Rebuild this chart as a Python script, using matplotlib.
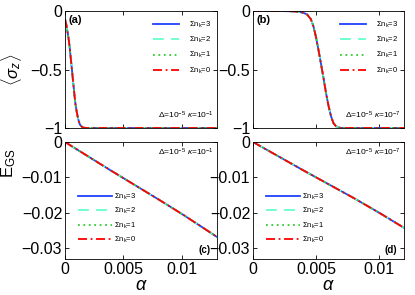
import numpy as np
import matplotlib
matplotlib.use("Agg")
import matplotlib.pyplot as plt

plt.rcParams['font.family'] = ['Liberation Sans', 'DejaVu Sans']
plt.rcParams['mathtext.fontset'] = 'custom'
plt.rcParams['mathtext.rm'] = 'Liberation Sans'
plt.rcParams['mathtext.it'] = 'Liberation Sans:italic'
plt.rcParams['axes.unicode_minus'] = True

# -----------------------------
# data
# -----------------------------
alpha_a = [0, 0.0001, 0.0002, 0.0003, 0.0004, 0.0005, 0.0006, 0.0007, 0.0008,
           0.0009, 0.001, 0.0011, 0.0012, 0.0013, 0.0015, 0.0018, 0.004, 0.008, 0.013]
sz_a = [-0.07, -0.11, -0.17, -0.23, -0.31, -0.41, -0.51, -0.61, -0.71,
        -0.80, -0.86, -0.91, -0.95, -0.975, -0.995, -1.0, -1.0, -1.0, -1.0]

alpha_b = [0, 0.002, 0.003, 0.0035, 0.004, 0.0043, 0.0046, 0.0048, 0.005, 0.0052,
           0.0054, 0.0056, 0.0058, 0.006, 0.0062, 0.0064, 0.0066, 0.0068, 0.007, 0.012]
sz_b = [0, 0, -0.002, -0.005, -0.015, -0.03, -0.07, -0.13, -0.22, -0.33,
        -0.45, -0.57, -0.70, -0.81, -0.90, -0.96, -0.985, -0.995, -1.0, -1.0]

alpha_c = [0, 0.002, 0.004, 0.006, 0.008, 0.01, 0.012, 0.013]
egs_c = [0, -0.0041, -0.0082, -0.0122, -0.0162, -0.0203, -0.0246, -0.0268]

alpha_d = [0, 0.002, 0.004, 0.006, 0.008, 0.01, 0.012]
egs_d = [0, -0.0040, -0.0080, -0.0119, -0.0158, -0.0199, -0.0242]

series = ['3', '2', '1', '0']
colors = ['#2040ff', '#66ffcc', '#33cc33', '#ff0000']
styles = ['-', (0, (6, 4)), (0, (1, 2)), (0, (5, 2, 1, 2))]

annot_top = [r'$\Delta$=10$^{-5}$ $\kappa$=10$^{-1}$', r'$\Delta$=10$^{-5}$ $\kappa$=10$^{-7}$']

fig = plt.figure(figsize=(4.15, 2.95), dpi=100)
W, H = 415, 295


def make_ax(l, r, t, b):
    return fig.add_axes([l / W, 1 - b / H, (r - l) / W, (b - t) / H])


ax_a = make_ax(65, 217, 11, 128)
ax_b = make_ax(253, 404, 11, 128)
ax_c = make_ax(65, 217, 142, 259)
ax_d = make_ax(253, 404, 142, 259)

panels = [
    (ax_a, alpha_a, sz_a, 0.013, '(a)', annot_top[0]),
    (ax_b, alpha_b, sz_b, 0.012, '(b)', annot_top[1]),
    (ax_c, alpha_c, egs_c, 0.013, '(c)', annot_top[0]),
    (ax_d, alpha_d, egs_d, 0.012, '(d)', annot_top[1]),
]

for i, (ax, x, y, xmax, lab, ann) in enumerate(panels):
    for s, c, ls in zip(series, colors, styles):
        ax.plot(x, y, color=c, linestyle=ls, lw=1.3,
                label=r'$\Sigma$n$_\mathrm{k}$=' + s)
    ax.set_xlim(0, xmax)
    ax.set_xticks([0, 0.005, 0.01])
    ax.tick_params(direction='in', top=True, right=True, length=3,
                   labelsize=11.5, width=0.6, pad=2)
    for sp in ax.spines.values():
        sp.set_linewidth(0.6)
    if i < 2:
        ax.set_ylim(-1, 0)
        ax.set_yticks([0, -0.5, -1])
        ax.set_yticklabels(['0', '\u22120.5', '\u22121'])
        ax.set_xticklabels([])
        ax.text(0.02, 0.97, lab, transform=ax.transAxes, ha='left', va='top',
                fontsize=8, fontweight='bold')
        ax.text(0.98, 0.06, ann, transform=ax.transAxes, ha='right', va='bottom',
                fontsize=6)
        ax.legend(loc='upper right', bbox_to_anchor=(1.0, 0.97), frameon=False,
                  fontsize=5.5, handlelength=3.3, handletextpad=1.4,
                  labelspacing=0.65, borderaxespad=0.3)
    else:
        ax.set_ylim(-0.033, 0)
        ax.set_yticks([0, -0.01, -0.02, -0.03])
        ax.set_yticklabels(['0', '\u22120.01', '\u22120.02', '\u22120.03'])
        ax.set_xticklabels(['0', '0.005', '0.01'])
        ax.set_xlabel(r'$\alpha$', fontsize=13, labelpad=0)
        ax.text(0.955, 0.03, lab, transform=ax.transAxes, ha='right', va='bottom',
                fontsize=7, fontweight='bold')
        ax.text(0.98, 0.96, ann, transform=ax.transAxes, ha='right', va='top',
                fontsize=6)
        ax.legend(loc='lower left', bbox_to_anchor=(0.04, 0.06), frameon=False,
                  fontsize=5.5, handlelength=4.4, handletextpad=0.3,
                  labelspacing=0.55)

ax_a.set_ylabel(r'$\langle\sigma_z\rangle$', fontsize=12)
ax_a.yaxis.set_label_coords(-0.27, 0.5)
ax_c.set_ylabel(r'E$_\mathrm{GS}$', fontsize=12)
ax_c.yaxis.set_label_coords(-0.31, 0.82)

fig.savefig('out.png', dpi=100)
